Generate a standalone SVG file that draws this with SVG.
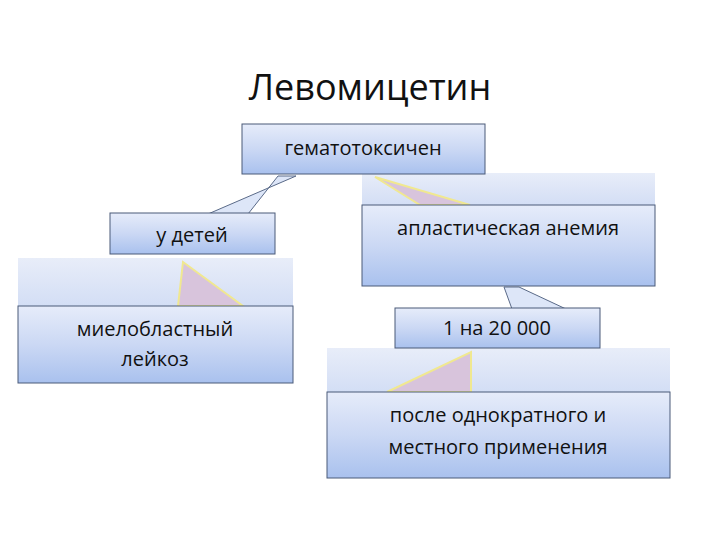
<svg xmlns="http://www.w3.org/2000/svg" width="720" height="540" viewBox="0 0 720 540">
<defs>
<linearGradient id="g" x1="0" y1="0" x2="0" y2="1"><stop offset="0" stop-color="#e6ecfa"/><stop offset="0.5" stop-color="#cbd8f4"/><stop offset="1" stop-color="#a9c1ee"/></linearGradient>
<linearGradient id="band" x1="0" y1="0" x2="0" y2="1"><stop offset="0" stop-color="#e8edf9"/><stop offset="1" stop-color="#d3def5"/></linearGradient>
<style>
.box{fill:url(#g);stroke:#4a5a78;stroke-width:1}
.band{fill:url(#band)}
.t{font-family:"Open Sans","DejaVu Sans",sans-serif;font-size:20px;fill:#111;text-anchor:middle}
.tri{fill:#d8c4dc;stroke:#f0e890;stroke-width:2}
.ptr{fill:#dde6f8;stroke:#5a6a88;stroke-width:1}
</style>
</defs>
<rect width="720" height="540" fill="#fff"/>
<text x="370" y="100" style="font-family:'Open Sans','DejaVu Sans',sans-serif;font-size:36px;fill:#111;text-anchor:middle">Левомицетин</text>
<g id="connectors">
<polygon class="ptr" points="208,214 296,176 278,176 248,214"/>
<polygon class="ptr" points="504,287 512,309 566,309 519,287"/>
<rect class="band" x="18" y="258" width="275" height="48"/>
<polygon class="tri" points="183,262 178,306 243,306"/>
<rect class="band" x="362" y="173" width="293" height="32"/>
<polygon class="tri" points="375,177 420,205 470,205"/>
<rect class="band" x="327" y="348" width="343" height="44"/>
<polygon class="tri" points="471,352 471,392 387,392"/>
</g>
<g id="n1"><rect class="box" x="242" y="124" width="243" height="50"/><text class="t" x="363" y="155">гематотоксичен</text></g>
<g id="n2"><rect class="box" x="110" y="213" width="165" height="41"/><text class="t" x="192" y="242">у детей</text></g>
<g id="n3"><rect class="box" x="18" y="306" width="275" height="77"/><text class="t" x="155" y="336">миелобластный</text><text class="t" x="155" y="366">лейкоз</text></g>
<g id="n4"><rect class="box" x="362" y="205" width="293" height="81"/><text class="t" x="508" y="235">апластическая анемия</text></g>
<g id="n5"><rect class="box" x="395" y="308" width="205" height="40"/><text class="t" x="497" y="335">1 на 20 000</text></g>
<g id="n6"><rect class="box" x="327" y="392" width="343" height="86"/><text class="t" x="498" y="422">после однократного и</text><text class="t" x="498" y="454">местного применения</text></g>
</svg>
